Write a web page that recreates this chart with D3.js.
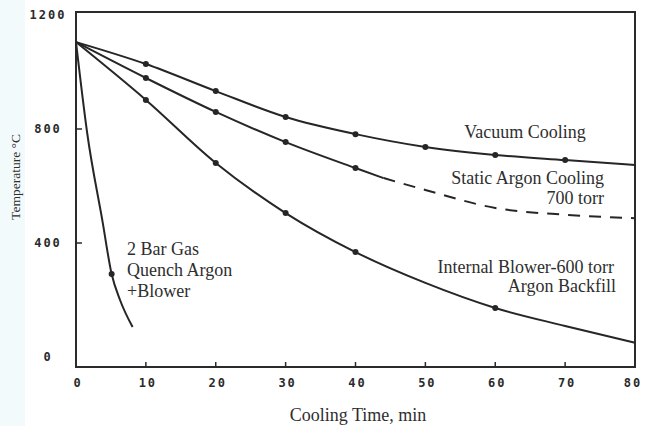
<!DOCTYPE html>
<html>
<head>
<meta charset="utf-8">
<script src="https://cdn.jsdelivr.net/npm/d3@7"></script>
<style>
  body { margin: 0; background: #fff; }
  .tickLabels { font-family: "DejaVu Sans Mono", monospace; font-weight: bold; font-size: 12px; letter-spacing: 2px; fill: #2a2a2a; }
  .notes { font-family: "Liberation Serif", "Times New Roman", serif; font-size: 18px; fill: #2e2e2e; }
</style>
</head>
<body>
<svg id="svg-chart" width="645" height="426"></svg>
<script>
// tick labels
var timeTicks = [0, 10, 20, 30, 40, 50, 60, 70, 80];
var tempTicks = [0, 400, 800, 1200];

// Vacuum Cooling
var vacuumTime = [0, 10, 20, 30, 40, 50, 60, 70, 80];
var vacuumTemp = [1105, 1028, 933, 842, 782, 737, 709, 691, 674];
var vacuumDots = [10, 20, 30, 40, 50, 60, 70];

// Static Argon Cooling 700 torr (solid part, then dashed)
var staticTime = [0, 10, 20, 30, 40, 44];
var staticTemp = [1105, 979, 860, 754, 663, 628];
var staticDashTime = [44, 50, 60, 70, 80];
var staticDashTemp = [628, 586, 523, 499, 487];
var staticDots = [10, 20, 30, 40];

// Internal Blower-600 torr Argon Backfill
var blowerTime = [0, 10, 20, 30, 40, 50, 60, 70, 80];
var blowerTemp = [1105, 902, 681, 505, 368, 260, 172, 109, 50];
var blowerDots = [10, 20, 30, 40, 60];

// 2 Bar Gas Quench Argon +Blower
var quenchTime = [0, 1.6, 3.8, 5.1, 6.3, 8.1];
var quenchTemp = [1105, 786, 475, 291, 200, 105];
var quenchDots = [5.1];

var svg = d3.select("#svg-chart");

// plot box (don't call these top/left - window.top is read only)
var boxLeft = 76, boxRight = 635, boxTop = 12, boxBottom = 367;

// faint strip on the left edge of the scan
svg.append("rect").attr("x", 0).attr("y", 0).attr("width", 25).attr("height", 426).attr("fill", "#f3fafb");

var xScale = d3.scaleLinear().domain([0, 80]).range([boxLeft, boxRight]);
var yScale = d3.scaleLinear().domain([0, 1200]).range([357, 15]);

// frame
svg.append("rect")
   .attr("x", boxLeft).attr("y", boxTop)
   .attr("width", boxRight - boxLeft).attr("height", boxBottom - boxTop)
   .attr("fill", "none").attr("stroke", "#2a2a2a").attr("stroke-width", 2);

// inward ticks
svg.selectAll("xTicks").data(timeTicks.slice(1, -1)).enter().append("line")
   .attr("x1", function(d) { return xScale(d); }).attr("x2", function(d) { return xScale(d); })
   .attr("y1", boxBottom).attr("y2", boxBottom - 5)
   .attr("stroke", "#2a2a2a").attr("stroke-width", 1.5);
svg.selectAll("yTicks").data(tempTicks.slice(1, -1)).enter().append("line")
   .attr("x1", boxLeft).attr("x2", boxLeft + 6)
   .attr("y1", function(d) { return yScale(d); }).attr("y2", function(d) { return yScale(d); })
   .attr("stroke", "#2a2a2a").attr("stroke-width", 1.5);

// tick labels
svg.selectAll("xLabels").data(timeTicks).enter().append("text")
   .attr("class", "tickLabels")
   .attr("x", function(d) { return d == 80 ? xScale(d) - 2 : xScale(d) + 2; })
   .attr("y", 387)
   .attr("text-anchor", "middle")
   .text(function(d) { return d; });
svg.selectAll("yLabels").data(tempTicks).enter().append("text")
   .attr("class", "tickLabels")
   .attr("x", 48)
   .attr("y", function(d) { return yScale(d) + 4; })
   .attr("text-anchor", "middle")
   .text(function(d) { return d; });

// axis titles
svg.append("text").attr("class", "notes")
   .attr("x", 358).attr("y", 421).attr("text-anchor", "middle")
   .text("Cooling Time, min");
svg.append("text").attr("class", "notes")
   .style("font-size", "13.5px")
   .attr("transform", "translate(20,177) rotate(-90)")
   .attr("text-anchor", "middle")
   .text("Temperature \u00B0C");

// curves
var line = d3.line()
  .x(function(d) { return xScale(d[0]); })
  .y(function(d) { return yScale(d[1]); })
  .curve(d3.curveMonotoneX);

function drawCurve(times, temps, dots, dashed) {
  var pts = d3.zip(times, temps);
  svg.append("path")
     .datum(pts)
     .attr("d", line)
     .attr("fill", "none")
     .attr("stroke", "#262626")
     .attr("stroke-width", 2)
     .attr("stroke-dasharray", dashed ? "12,9" : null);
  svg.selectAll("dots")
     .data(pts.filter(function(p) { return dots.indexOf(p[0]) >= 0; }))
     .enter().append("circle")
     .attr("cx", function(d) { return xScale(d[0]); })
     .attr("cy", function(d) { return yScale(d[1]); })
     .attr("r", 3)
     .attr("fill", "#262626");
}

drawCurve(vacuumTime, vacuumTemp, vacuumDots, false);
drawCurve(staticTime, staticTemp, staticDots, false);
drawCurve(staticDashTime, staticDashTemp, [], true);
drawCurve(blowerTime, blowerTemp, blowerDots, false);
drawCurve(quenchTime, quenchTemp, quenchDots, false);

// curve notes
svg.append("text").attr("class", "notes").attr("x", 525).attr("y", 138).attr("text-anchor", "middle").text("Vacuum Cooling");
svg.append("text").attr("class", "notes").attr("x", 604).attr("y", 184).attr("text-anchor", "end").text("Static Argon Cooling");
svg.append("text").attr("class", "notes").attr("x", 604).attr("y", 204).attr("text-anchor", "end").text("700 torr");
svg.append("text").attr("class", "notes").attr("x", 614).attr("y", 273).attr("text-anchor", "end").text("Internal Blower-600 torr");
svg.append("text").attr("class", "notes").attr("x", 616).attr("y", 292).attr("text-anchor", "end").text("Argon Backfill");
svg.append("text").attr("class", "notes").attr("x", 127).attr("y", 255).text("2 Bar Gas");
svg.append("text").attr("class", "notes").attr("x", 127).attr("y", 276).text("Quench  Argon");
svg.append("text").attr("class", "notes").attr("x", 127).attr("y", 297).text("+Blower");
</script>
</body>
</html>
